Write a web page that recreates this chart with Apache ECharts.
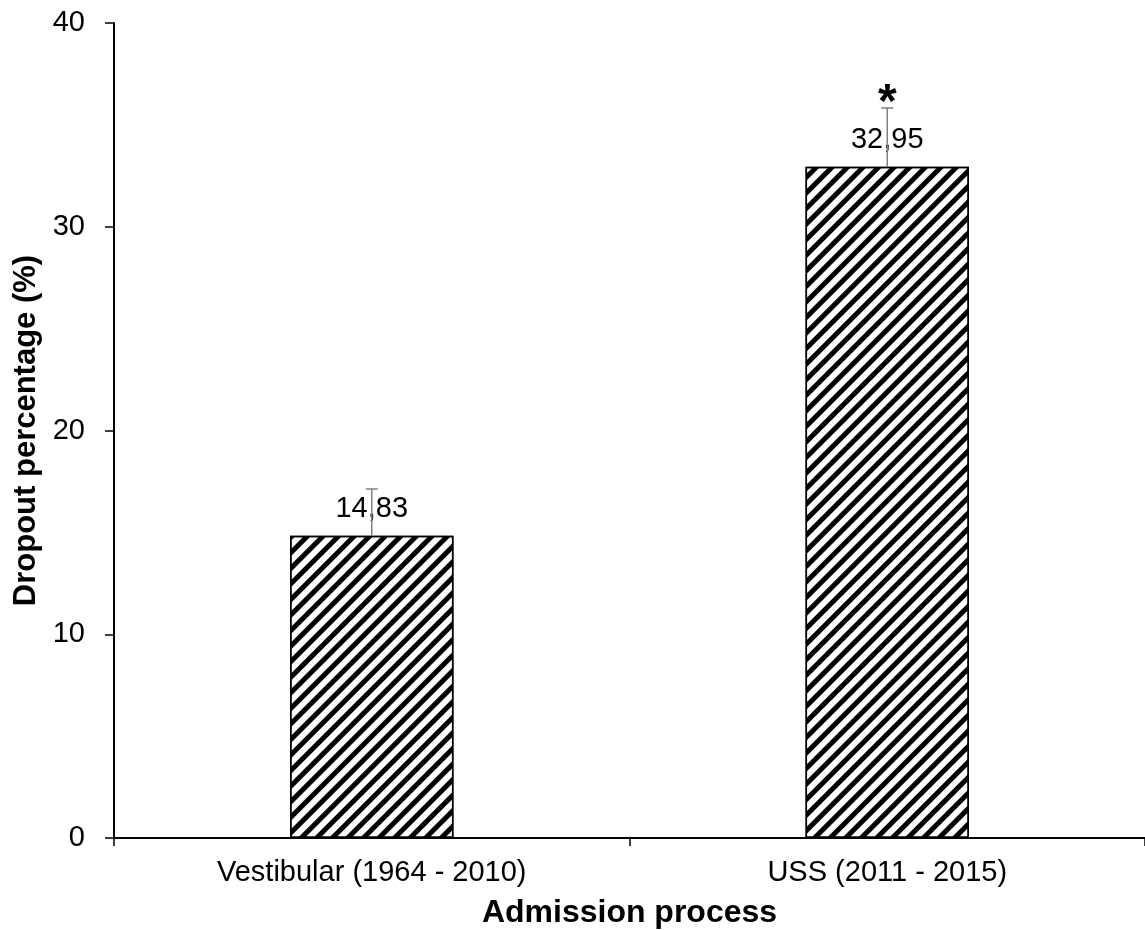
<!DOCTYPE html>
<html><head><meta charset="utf-8">
<script src="https://cdn.jsdelivr.net/npm/echarts@6/dist/echarts.min.js"></script>
<style>html,body{margin:0;padding:0;background:#fff}#c{width:1145px;height:930px}</style>
</head><body><div id="c"></div>
<script>
const categories = ['Vestibular (1964 - 2010)', 'USS (2011 - 2015)'];
const values = [14.83, 32.95];
const errorUpper = [17.13, 35.83];
const marks = ['', '*'];
const yTicks = [0, 10, 20, 30, 40];

const chart = echarts.init(document.getElementById('c'));
const FONT = 'Liberation Sans, Arial, sans-serif';
chart.setOption({
  animation: false,
  aria: { enabled: false },
  grid: { left: 114, top: 23, right: 0, bottom: 92, containLabel: false, outerBoundsMode: 'none' },
  xAxis: {
    type: 'category', data: categories,
    name: 'Admission process', nameLocation: 'middle', nameGap: 59,
    nameTextStyle: { fontFamily: FONT, fontSize: 32, fontWeight: 'bold', color: '#000' },
    axisLine: { lineStyle: { color: '#000', width: 2 } },
    axisTick: { show: true, alignWithLabel: false, length: 8, lineStyle: { color: '#000', width: 1.5 } },
    axisLabel: { fontFamily: FONT, fontSize: 29, color: '#000', margin: 20 },
    splitLine: { show: false }
  },
  yAxis: {
    type: 'value', min: 0, max: 40, interval: 10,
    name: 'Dropout percentage (%)', nameLocation: 'middle', nameGap: 72, nameRotate: 90,
    nameTextStyle: { fontFamily: FONT, fontSize: 31, fontWeight: 'bold', color: '#000' },
    axisLine: { show: true, lineStyle: { color: '#000', width: 2 } },
    axisTick: { show: true, length: 9, lineStyle: { color: '#000', width: 1.5 } },
    axisLabel: { fontFamily: FONT, fontSize: 29, color: '#000', margin: 29,
      formatter: v => yTicks.includes(v) ? String(v) : '' },
    splitLine: { show: false }
  },
  series: [
    {
      type: 'bar', data: values, barWidth: '31.7%',
      itemStyle: {
        color: '#fff', borderColor: '#000', borderWidth: 1.5,
        decal: { symbol: 'rect', symbolSize: 1, dashArrayX: [[1, 0]], dashArrayY: [5, 6], rotation: -Math.PI / 4, color: '#000' }
      },
      label: { show: true, position: 'top', distance: 12, fontFamily: FONT, fontSize: 29, color: '#000',
        formatter: p => String(p.value).replace('.', ',') },
      z: 2
    },
    {
      type: 'custom', z: 3,
      data: values.map((v, i) => [i, v, errorUpper[i]]),
      renderItem: (params, api) => {
        const i = api.value(0);
        const base = api.coord([i, api.value(1)]);
        const top = api.coord([i, api.value(2)]);
        const children = [
          { type: 'line', shape: { x1: base[0], y1: base[1], x2: top[0], y2: top[1] }, style: { stroke: '#808080', lineWidth: 1.5 } },
          { type: 'line', shape: { x1: top[0] - 6, y1: top[1], x2: top[0] + 6, y2: top[1] }, style: { stroke: '#808080', lineWidth: 1.5 } }
        ];
        const m = marks[params.dataIndex];
        if (m) children.push({ type: 'text', style: { text: m, x: top[0], y: top[1] + 20, align: 'center', verticalAlign: 'bottom', font: 'bold 48px ' + FONT, fill: '#000' } });
        return { type: 'group', children };
      }
    }
  ]
});
</script></body></html>
